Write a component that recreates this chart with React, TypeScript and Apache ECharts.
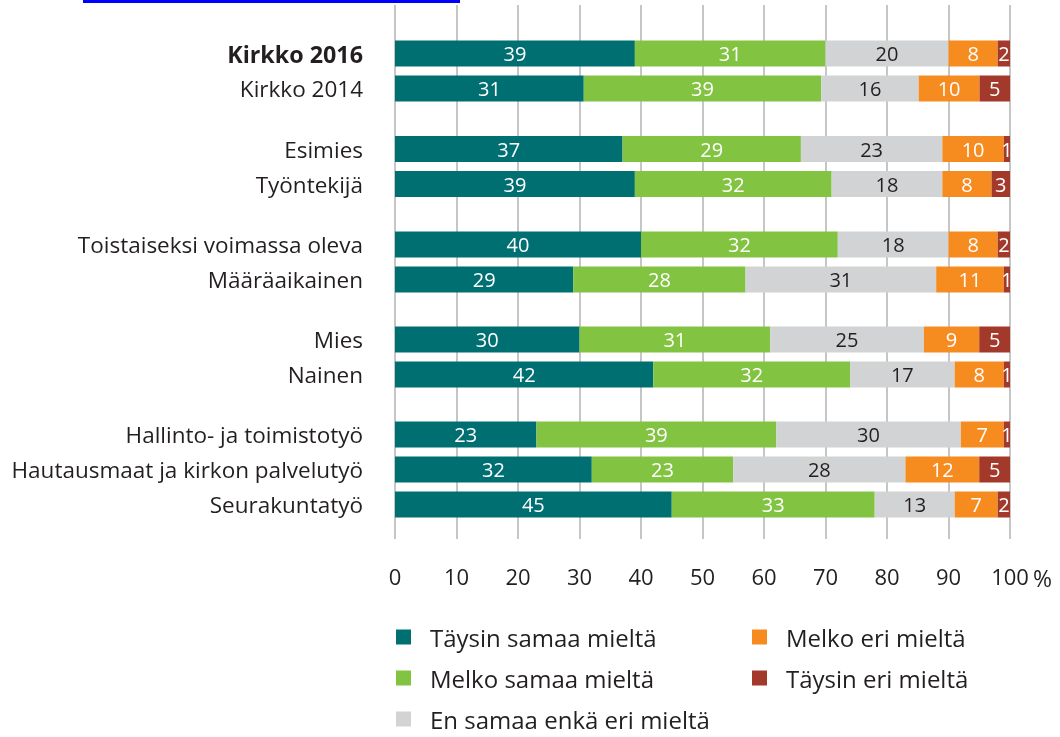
import React, { useEffect, useRef } from "react";
import * as echarts from "echarts";

const groups: string[][] = [
  ["Kirkko 2016", "Kirkko 2014"],
  ["Esimies", "Työntekijä"],
  ["Toistaiseksi voimassa oleva", "Määräaikainen"],
  ["Mies", "Nainen"],
  ["Hallinto- ja toimistotyö", "Hautausmaat ja kirkon palvelutyö", "Seurakuntatyö"],
];

const seriesNames = [
  "Täysin samaa mieltä",
  "Melko samaa mieltä",
  "En samaa enkä eri mieltä",
  "Melko eri mieltä",
  "Täysin eri mieltä",
];

// values in row order (all groups flattened)
const taysinSamaa = [39, 31, 37, 39, 40, 29, 30, 42, 23, 32, 45];
const melkoSamaa = [31, 39, 29, 32, 32, 28, 31, 32, 39, 23, 33];
const enSamaaEnkaEri = [20, 16, 23, 18, 18, 31, 25, 17, 30, 28, 13];
const melkoEri = [8, 10, 10, 8, 8, 11, 9, 8, 7, 12, 7];
const taysinEri = [2, 5, 1, 3, 2, 1, 5, 1, 1, 5, 2];

const xTicks = [0, 10, 20, 30, 40, 50, 60, 70, 80, 90, 100];

const seriesValues = [taysinSamaa, melkoSamaa, enSamaaEnkaEri, melkoEri, taysinEri];
const colors = ["#006f72", "#82c341", "#d1d3d4", "#f68b1f", "#a2392a"];
const labelColors = ["#ffffff", "#ffffff", "#231f20", "#ffffff", "#ffffff"];

const FONT = "Open Sans";
const TEXT = "#231f20";

const gridTops = [36, 131.5, 227, 322, 417];
const ROW = 35;

export default function App() {
  const ref = useRef<HTMLDivElement>(null);
  useEffect(() => {
    if (!ref.current) return;
    const chart = echarts.init(ref.current, undefined, { renderer: "svg" });

    const rowSums = taysinSamaa.map((_, i) =>
      seriesValues.reduce((a, arr) => a + arr[i], 0)
    );

    const grids: any[] = [{ left: 395, right: 50, top: 5, bottom: 198 }];
    const xAxes: any[] = [
      {
        gridIndex: 0,
        type: "value",
        min: 0,
        max: 100,
        interval: 10,
        axisLine: { show: false },
        axisTick: { show: false },
        splitLine: { show: true, lineStyle: { color: "#b3b3b3", width: 1.5 } },
        axisLabel: {
          margin: 26,
          fontFamily: FONT,
          fontSize: 22,
          color: TEXT,
          formatter: (v: number) => (xTicks.includes(v) ? String(v) : ""),
        },
      },
    ];
    const yAxes: any[] = [
      { gridIndex: 0, type: "category", data: [""], show: false },
    ];
    const series: any[] = [];

    let rowStart = 0;
    groups.forEach((cats, g) => {
      const gi = g + 1;
      grids.push({
        left: 395,
        right: 50,
        top: gridTops[g],
        height: cats.length * ROW,
      });
      xAxes.push({
        gridIndex: gi,
        type: "value",
        min: 0,
        max: 100,
        show: false,
        splitLine: { show: false },
      });
      yAxes.push({
        gridIndex: gi,
        type: "category",
        inverse: true,
        data: cats,
        axisLine: { show: false },
        axisTick: { show: false },
        axisLabel: {
          margin: 32,
          fontFamily: FONT,
          fontSize: 22.5,
          color: TEXT,
          formatter: (v: string) => (v === "Kirkko 2016" ? `{b|${v}}` : v),
          rich: {
            b: { fontFamily: FONT, fontSize: 23.3, fontWeight: "bold", color: TEXT },
          },
        },
      });
      const rows = cats.map((_, k) => rowStart + k);
      seriesNames.forEach((name, s) => {
        series.push({
          type: "bar",
          name,
          xAxisIndex: gi,
          yAxisIndex: gi,
          stack: "g" + g,
          barWidth: 26,
          itemStyle: { color: colors[s] },
          label: {
            show: true,
            position: "inside",
            fontFamily: FONT,
            fontSize: 20,
            color: labelColors[s],
            formatter: (p: any) => String(p.data.raw),
          },
          data: rows.map((r) => ({
            value: (seriesValues[s][r] / rowSums[r]) * 100,
            raw: seriesValues[s][r],
          })),
        });
      });
      rowStart += cats.length;
    });

    const legendBase = {
      orient: "vertical",
      icon: "rect",
      padding: 0,
      itemWidth: 15,
      itemHeight: 15,
      itemGap: 17,
      height: 130,
      textStyle: {
        fontFamily: FONT,
        fontSize: 24,
        lineHeight: 24,
        color: TEXT,
        padding: [0, 0, 0, 14],
      },
      selectedMode: false,
    };

    chart.setOption({
      animation: false,
      grid: grids,
      xAxis: xAxes,
      yAxis: yAxes,
      series,
      legend: [
        { ...legendBase, left: 396, top: 625, data: seriesNames.slice(0, 3) },
        { ...legendBase, left: 752, top: 625, data: seriesNames.slice(3) },
      ],
      graphic: [
        {
          type: "rect",
          left: 83,
          top: 0,
          shape: { width: 377, height: 3 },
          style: { fill: "#0000ff" },
        },
        {
          type: "text",
          x: 1033,
          y: 578,
          style: {
            text: "%",
            fontFamily: FONT,
            fontSize: 23,
            fill: TEXT,
            verticalAlign: "middle",
          },
        },
      ],
    });
    return () => chart.dispose();
  }, []);
  return (
    <div
      ref={ref}
      style={{ position: "fixed", left: 0, top: 0, width: 1060, height: 737 }}
    />
  );
}
